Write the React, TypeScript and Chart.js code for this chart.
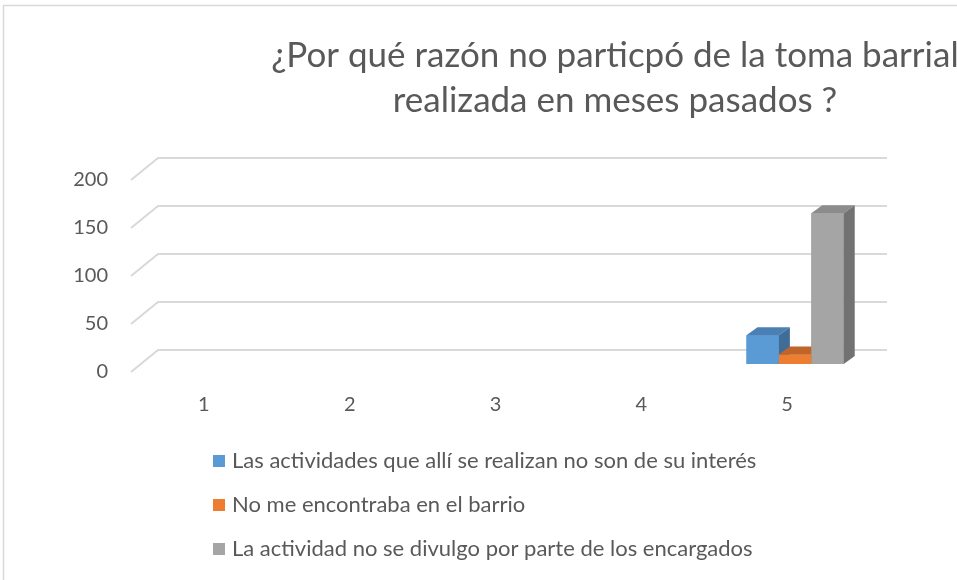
import React, { useEffect, useRef } from 'react';
import { Chart, registerables } from 'chart.js';

Chart.register(...registerables);

const categories = ['1', '2', '3', '4', '5'];
const seriesNames = [
  'Las actividades que allí se realizan no son de su interés',
  'No me encontraba en el barrio',
  'La actividad no se divulgo por parte de los encargados',
];
const seriesInteres = [0, 0, 0, 0, 30];
const seriesBarrio = [0, 0, 0, 0, 10];
const seriesDivulgo = [0, 0, 0, 0, 157];
const yTicks = [0, 50, 100, 150, 200];
const titleLines = ['¿Por qué razón no particpó de la toma barrial', 'realizada en meses pasados ?'];

const FRONT = ['#5B9BD5', '#ED7D31', '#A5A5A5'];
const TOP = ['#4A80B3', '#C0652A', '#8C8C8C'];
const SIDE = ['#3F6D98', '#A45522', '#727272'];
const TEXT = '#595959';
const GRID = '#D9D9D9';
const FONT = 'Lato, "Open Sans", sans-serif';

const WALL_DX = 27;
const WALL_DY = -22;
const BAR_SHIFT_X = 8;
const BAR_SHIFT_Y = -8;
const BAR_DX = 11;
const BAR_DY = -8;

const threeD = {
  id: 'threeD',
  beforeDraw(chart: any) {
    const { ctx, chartArea: a, scales } = chart;
    const y = scales.y;
    ctx.save();
    ctx.fillStyle = '#ffffff';
    ctx.fillRect(0, 0, chart.width, chart.height);
    ctx.strokeStyle = GRID;
    ctx.lineWidth = 1.5;
    ctx.beginPath();
    ctx.moveTo(3.5, chart.height);
    ctx.lineTo(3.5, 5.5);
    ctx.lineTo(chart.width, 5.5);
    ctx.stroke();
    ctx.fillStyle = TEXT;
    ctx.font = `35px ${FONT}`;
    ctx.textAlign = 'center';
    ctx.textBaseline = 'middle';
    ctx.fillText(titleLines[0], 615, 56);
    ctx.fillText(titleLines[1], 615, 101);
    ctx.strokeStyle = GRID;
    ctx.lineWidth = 2;
    for (const v of yTicks) {
      const py = y.getPixelForValue(v);
      ctx.beginPath();
      ctx.moveTo(a.left, py);
      ctx.lineTo(a.left + WALL_DX, py + WALL_DY);
      ctx.lineTo(a.right + WALL_DX, py + WALL_DY);
      ctx.stroke();
    }
    ctx.restore();
  },
  beforeDatasetsDraw(chart: any) {
    chart.ctx.save();
    chart.ctx.translate(BAR_SHIFT_X, BAR_SHIFT_Y);
  },
  afterDatasetsDraw(chart: any) {
    const { ctx } = chart;
    chart.data.datasets.forEach((ds: any, i: number) => {
      const meta = chart.getDatasetMeta(i);
      meta.data.forEach((el: any, j: number) => {
        const v = ds.data[j];
        if (!v) return;
        const { x, y, base, width } = el.getProps(['x', 'y', 'base', 'width'], true);
        const x1 = x - width / 2;
        const x2 = x + width / 2;
        ctx.fillStyle = FRONT[i];
        ctx.fillRect(x1, y, width, base - y);
        ctx.fillStyle = TOP[i];
        ctx.beginPath();
        ctx.moveTo(x1, y);
        ctx.lineTo(x2, y);
        ctx.lineTo(x2 + BAR_DX, y + BAR_DY);
        ctx.lineTo(x1 + BAR_DX, y + BAR_DY);
        ctx.closePath();
        ctx.fill();
        ctx.fillStyle = SIDE[i];
        ctx.beginPath();
        ctx.moveTo(x2, y);
        ctx.lineTo(x2 + BAR_DX, y + BAR_DY);
        ctx.lineTo(x2 + BAR_DX, base + BAR_DY);
        ctx.lineTo(x2, base);
        ctx.closePath();
        ctx.fill();
      });
    });
    ctx.restore();
  },
  afterDraw(chart: any) {
    const { ctx } = chart;
    ctx.save();
    ctx.font = `22px ${FONT}`;
    ctx.textAlign = 'left';
    ctx.textBaseline = 'middle';
    seriesNames.forEach((name, i) => {
      const cy = 461 + i * 44;
      ctx.fillStyle = FRONT[i];
      ctx.fillRect(213, cy - 6, 12, 12);
      ctx.fillStyle = TEXT;
      ctx.fillText(name, 232, cy);
    });
    ctx.restore();
  },
};

export default function App() {
  const ref = useRef<HTMLCanvasElement>(null);
  useEffect(() => {
    const canvas = ref.current;
    if (!canvas) return;
    const chart = new Chart(canvas, {
      type: 'bar',
      data: {
        labels: categories,
        datasets: [
          { label: seriesNames[0], data: seriesInteres, backgroundColor: FRONT[0] },
          { label: seriesNames[1], data: seriesBarrio, backgroundColor: FRONT[1] },
          { label: seriesNames[2], data: seriesDivulgo, backgroundColor: FRONT[2] },
        ],
      },
      options: {
        responsive: false,
        animation: false,
        devicePixelRatio: 1,
        layout: { padding: { left: 71, right: 97, top: 180, bottom: 148 } },
        datasets: { bar: { categoryPercentage: 0.667, barPercentage: 1 } },
        plugins: {
          legend: { display: false },
          title: { display: false },
          tooltip: { enabled: false },
        },
        scales: {
          x: {
            grid: { display: false, drawTicks: false },
            border: { display: false },
            ticks: { color: TEXT, font: { family: FONT, size: 20 }, padding: 21 },
            afterFit: (s: any) => { s.height = 60; },
          },
          y: {
            min: 0,
            max: 200,
            grid: { display: false, drawTicks: false },
            border: { display: false },
            ticks: { stepSize: 50, color: TEXT, font: { family: FONT, size: 20 }, padding: 23 },
            afterFit: (s: any) => { s.width = 60; },
          },
        },
      },
      plugins: [threeD],
    });
    return () => chart.destroy();
  }, []);
  return (
    <div style={{ position: 'fixed', left: 0, top: 0, width: 957, height: 580, overflow: 'hidden', background: '#fff' }}>
      <canvas ref={ref} width={957} height={580} style={{ width: 957, height: 580, display: 'block' }} />
    </div>
  );
}
